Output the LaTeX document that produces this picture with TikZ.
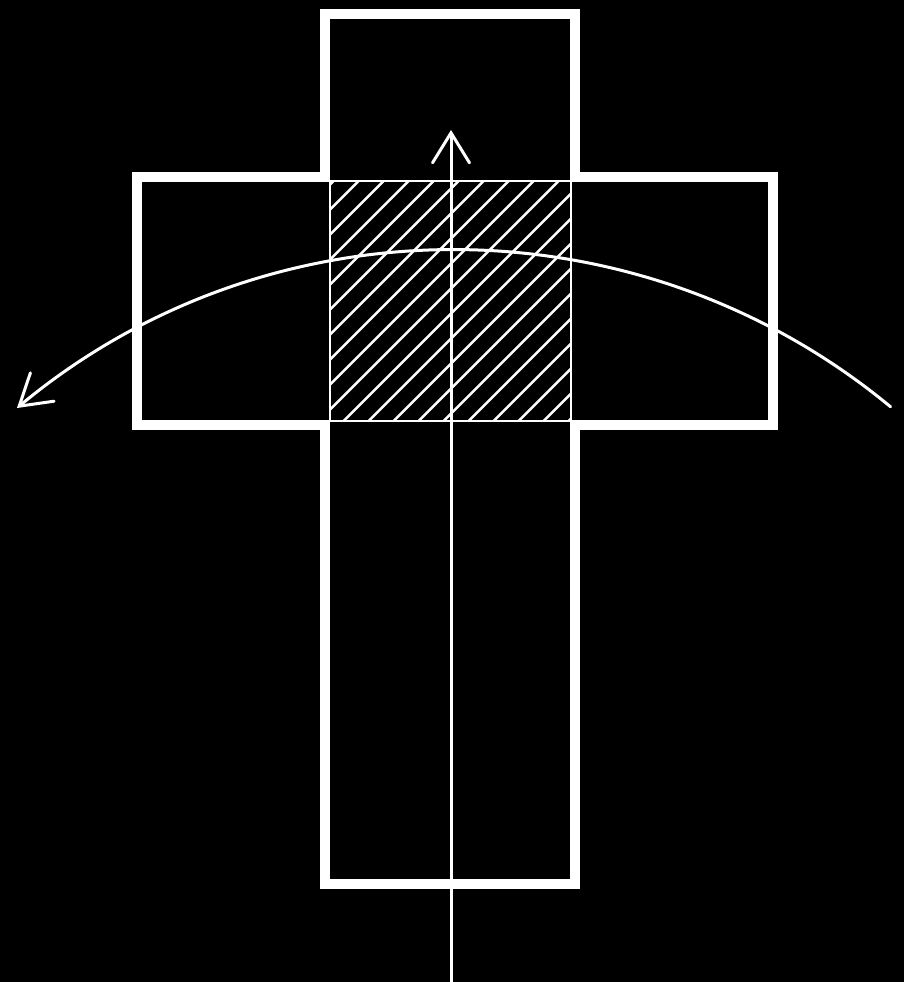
\documentclass[tikz,border=0pt]{standalone}
\usepackage{tikz}
\usetikzlibrary{arrows.meta}

\begin{document}
\begin{tikzpicture}[
    line cap=round,
    outline/.style={white, line width=1mm, line cap=butt, line join=miter},
    hatchline/.style={white, line width=0.25mm},
    axisarrow/.style={white, line width=0.3mm,
        -{Straight Barb[length=3mm, width=3.7mm, line cap=round]}},
]

%--- Coordinates ---
\def\xL{3.25}      % left side of upright
\def\xR{5.75}      % right side of upright
\def\xA{1.37}      % left end of cross arm
\def\xB{7.73}      % right end of cross arm
\def\yT{9.68}      % top of upright
\def\yU{8.05}      % top of cross arm
\def\yD{5.57}      % bottom of cross arm
\def\yB{0.98}      % bottom of upright
% hatched square
\def\hxA{3.30}
\def\hxB{5.71}
\def\hyA{5.61}
\def\hyB{8.01}
% curved arrow
\def\cx{4.545}     % circle centre x
\def\cy{0.4775}    % circle centre y
\def\rad{6.844}    % radius

%--- Background ---
\fill[black] (0,0) rectangle (9.04,9.82);
\useasboundingbox (0,0) rectangle (9.04,9.82);

%============================================================
% Hatched centre square
%============================================================
\begin{scope}
    \clip (\hxA,\hyA) rectangle (\hxB,\hyB);
    \foreach \k in {-1,...,18} {
        \pgfmathsetmacro\d{-4.423+0.25*\k}
        \draw[hatchline] (3,{3-\d}) -- (6,{6-\d});
    }
\end{scope}
\draw[hatchline] (\hxA,\hyA) rectangle (\hxB,\hyB);

%============================================================
% Cross outline
%============================================================
\draw[outline] (\xL,\yT) -- (\xR,\yT) -- (\xR,\yU) -- (\xB,\yU)
    -- (\xB,\yD) -- (\xR,\yD) -- (\xR,\yB) -- (\xL,\yB)
    -- (\xL,\yD) -- (\xA,\yD) -- (\xA,\yU) -- (\xL,\yU) -- cycle;

%============================================================
% Vertical axis arrow
%============================================================
\coordinate (axisbase) at (4.51,0);
\coordinate (axistip)  at (4.51,8.52);
\draw[axisarrow] (axisbase) -- (axistip);

%============================================================
% Curved arrow
%============================================================
\coordinate (arcstart) at ({\cx+\rad*cos(50.42)},{\cy+\rad*sin(50.42)});
\draw[axisarrow] (arcstart) arc[start angle=50.42, end angle=129.74, radius=\rad];

\end{tikzpicture}
\end{document}
